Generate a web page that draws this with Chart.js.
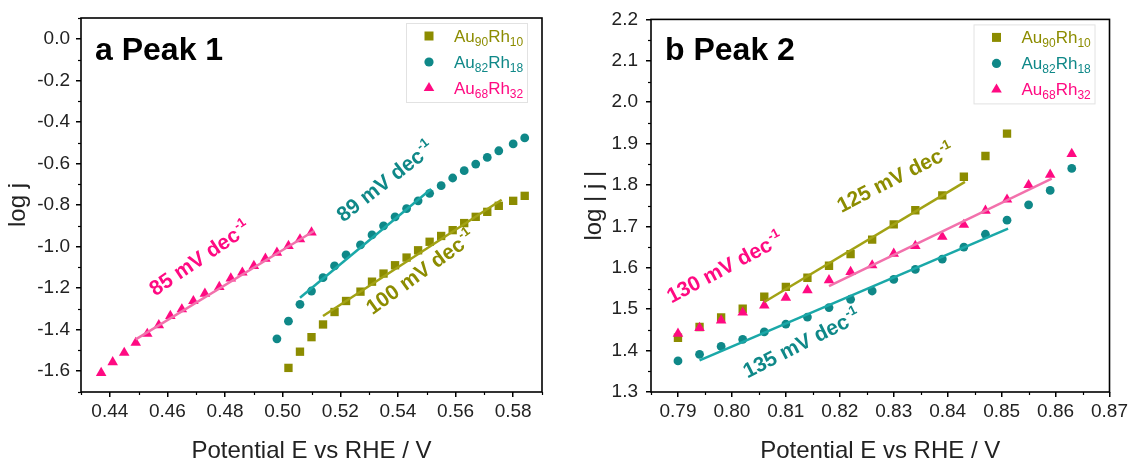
<!DOCTYPE html>
<html lang="en">
<head>
<meta charset="UTF-8">
<title>Tafel plots - Peak 1 and Peak 2</title>
<script src="https://cdn.jsdelivr.net/npm/chart.js"></script>
<style>
  html, body { margin: 0; padding: 0; background: #fff; }
  body { width: 1131px; height: 462px; position: relative; overflow: hidden; }
  .panel { position: absolute; top: 0; height: 462px; }
  #panelA { left: 0; width: 565px; }
  #panelB { left: 565px; width: 566px; }
</style>
</head>
<body>
<div class="panel" id="panelA"><canvas id="chartA"></canvas></div>
<div class="panel" id="panelB"><canvas id="chartB"></canvas></div>

<script>
const seriesNames = ['Au90Rh10', 'Au82Rh18', 'Au68Rh32'];

// Peak 1 (panel a)
const a_x90 = [0.502, 0.506, 0.510, 0.514, 0.518, 0.522, 0.527, 0.531, 0.535, 0.539, 0.543, 0.547, 0.551, 0.555, 0.559, 0.563, 0.567, 0.571, 0.575, 0.580, 0.584];
const a_y90 = [-1.584, -1.506, -1.436, -1.375, -1.315, -1.262, -1.217, -1.169, -1.130, -1.090, -1.053, -1.018, -0.977, -0.949, -0.921, -0.887, -0.857, -0.833, -0.804, -0.780, -0.756];
const a_x82 = [0.498, 0.502, 0.506, 0.510, 0.514, 0.518, 0.522, 0.527, 0.531, 0.535, 0.539, 0.543, 0.547, 0.551, 0.555, 0.559, 0.563, 0.567, 0.571, 0.575, 0.580, 0.584];
const a_y82 = [-1.444, -1.359, -1.278, -1.214, -1.150, -1.093, -1.040, -0.992, -0.944, -0.900, -0.857, -0.817, -0.780, -0.744, -0.707, -0.670, -0.635, -0.603, -0.571, -0.539, -0.506, -0.477];
const a_x68 = [0.437, 0.441, 0.445, 0.449, 0.453, 0.457, 0.461, 0.465, 0.469, 0.473, 0.478, 0.482, 0.486, 0.490, 0.494, 0.498, 0.502, 0.506, 0.510];
const a_y68 = [-1.608, -1.556, -1.511, -1.463, -1.420, -1.378, -1.334, -1.302, -1.262, -1.227, -1.194, -1.153, -1.125, -1.093, -1.058, -1.029, -0.997, -0.965, -0.932];
const a_fitX90 = [0.514, 0.576], a_fitY90 = [-1.334, -0.775];
const a_fitX82 = [0.506, 0.5515], a_fitY82 = [-1.246, -0.723];
const a_fitX68 = [0.449, 0.511], a_fitY68 = [-1.447, -0.924];
const xTicksA = [0.44, 0.46, 0.48, 0.50, 0.52, 0.54, 0.56, 0.58];
const yTicksA = [-1.6, -1.4, -1.2, -1.0, -0.8, -0.6, -0.4, -0.2, 0.0];

// Peak 2 (panel b)
const b_x90 = [0.790, 0.794, 0.798, 0.802, 0.806, 0.810, 0.814, 0.818, 0.822, 0.826, 0.830, 0.834, 0.839, 0.843, 0.847, 0.851];
const b_y90 = [1.431, 1.457, 1.480, 1.501, 1.530, 1.554, 1.576, 1.605, 1.633, 1.668, 1.705, 1.739, 1.775, 1.820, 1.870, 1.924];
const b_x82 = [0.790, 0.794, 0.798, 0.802, 0.806, 0.810, 0.814, 0.818, 0.822, 0.826, 0.830, 0.834, 0.839, 0.843, 0.847, 0.851, 0.855, 0.859, 0.863];
const b_y82 = [1.375, 1.391, 1.410, 1.427, 1.445, 1.464, 1.481, 1.504, 1.524, 1.544, 1.572, 1.596, 1.621, 1.650, 1.681, 1.715, 1.752, 1.787, 1.840];
const b_x68 = [0.790, 0.794, 0.798, 0.802, 0.806, 0.810, 0.814, 0.818, 0.822, 0.826, 0.830, 0.834, 0.839, 0.843, 0.847, 0.851, 0.855, 0.859, 0.863];
const b_y68 = [1.441, 1.455, 1.473, 1.492, 1.509, 1.528, 1.546, 1.570, 1.590, 1.606, 1.634, 1.653, 1.675, 1.704, 1.738, 1.765, 1.800, 1.825, 1.875];
const b_fitX90 = [0.806, 0.8432], b_fitY90 = [1.5175, 1.8076];
const b_fitX82 = [0.794, 0.8512], b_fitY82 = [1.3765, 1.6948];
const b_fitX68 = [0.818, 0.8593], b_fitY68 = [1.556, 1.8156];
const xTicksB = [0.79, 0.80, 0.81, 0.82, 0.83, 0.84, 0.85, 0.86, 0.87];
const yTicksB = [1.3, 1.4, 1.5, 1.6, 1.7, 1.8, 1.9, 2.0, 2.1, 2.2];

const FONT = '"Liberation Sans", Arial, sans-serif';
const OLIVE = '#8c8c00', TEAL = '#0f8888', PINK = '#ff0a82';
const OLIVE_FIT = '#a2a214', TEAL_FIT = '#1aa8a8', PINK_FIT = '#f271ac';
const colors = [OLIVE, TEAL, PINK];
const styles = ['rect', 'circle', 'triangle'];

function pts(xs, ys) {
  return xs.map((x, i) => ({ x: x, y: ys[i] }));
}

function markers(i, xs, ys) {
  const radius = [5.9, 4.4, 6.1][i];
  return {
    label: seriesNames[i],
    data: pts(xs, ys),
    pointStyle: styles[i],
    pointRadius: radius,
    pointHoverRadius: radius,
    pointBackgroundColor: colors[i],
    pointBorderColor: colors[i],
    pointBorderWidth: 0,
    showLine: false,
    order: 4 - i   // triangles over circles over squares
  };
}

function fitLine(xs, ys, color) {
  return {
    data: pts(xs, ys),
    showLine: true,
    borderColor: color,
    borderWidth: 2.5,
    pointRadius: 0,
    fill: false,
    order: 1
  };
}

// frame, minor ticks, panel title, legend with subscripts, slope notes
const decoPlugin = {
  id: 'deco',
  afterDraw(chart, args, opts) {
    const ctx = chart.ctx;
    const area = chart.chartArea;
    const sx = chart.scales.x, sy = chart.scales.y;
    ctx.save();

    // minor ticks
    ctx.strokeStyle = '#000';
    ctx.lineWidth = 1.2;
    const minor = (scale, majors, horiz) => {
      const step = (majors[1] - majors[0]) / 2;
      for (let k = -3; k <= majors.length * 2 + 2; k++) {
        if (k % 2 === 0) continue;
        const v = majors[0] + k * step;
        if (v < scale.min - 1e-9 || v > scale.max + 1e-9) continue;
        const p = Math.round(scale.getPixelForValue(v)) + 0.5;
        ctx.beginPath();
        if (horiz) { ctx.moveTo(p, area.bottom); ctx.lineTo(p, area.bottom + 3); }
        else { ctx.moveTo(area.left, p); ctx.lineTo(area.left - 3, p); }
        ctx.stroke();
      }
    };
    minor(sx, opts.xMajor, true);
    minor(sy, opts.yMajor, false);

    // frame
    ctx.lineWidth = 1.6;
    ctx.strokeRect(area.left, area.top, area.right - area.left, area.bottom - area.top);

    // panel title
    ctx.fillStyle = '#000';
    ctx.font = 'bold 32px ' + FONT;
    ctx.textBaseline = 'alphabetic';
    ctx.textAlign = 'left';
    ctx.fillText(opts.title, area.left + 14, 60);

    // legend
    const bw = 121, bh = 79;
    const bx = area.right - 15 - bw, by = area.top + 5;
    ctx.strokeStyle = '#e2e2e2';
    ctx.lineWidth = 1;
    ctx.strokeRect(bx + 0.5, by + 0.5, bw, bh);
    seriesNames.forEach((name, i) => {
      const cy = by + 13 + i * 26;
      const mx = bx + 23;
      ctx.fillStyle = colors[i];
      ctx.beginPath();
      if (i === 0) ctx.rect(mx - 4.5, cy - 4.5, 9, 9);
      else if (i === 1) ctx.arc(mx, cy, 4.6, 0, Math.PI * 2);
      else {
        ctx.moveTo(mx, cy - 6);
        ctx.lineTo(mx + 5.3, cy + 3);
        ctx.lineTo(mx - 5.3, cy + 3);
        ctx.closePath();
      }
      ctx.fill();
      let tx = bx + 48;
      const ty = cy + 6;
      name.split(/(\d+)/).forEach((part, j) => {
        if (!part) return;
        if (j % 2 === 1) {
          ctx.font = '12px ' + FONT;
          ctx.fillText(part, tx, ty + 4);
        } else {
          ctx.font = '17px ' + FONT;
          ctx.fillText(part, tx, ty);
        }
        tx += ctx.measureText(part).width;
      });
    });

    // slope notes
    opts.notes.forEach(n => {
      const x = sx.getPixelForValue(n.x), y = sy.getPixelForValue(n.y);
      ctx.save();
      ctx.translate(x, y);
      ctx.rotate(-n.angle * Math.PI / 180);
      ctx.fillStyle = n.color;
      ctx.font = 'bold 21px ' + FONT;
      ctx.fillText(n.text, 0, 0);
      const w = ctx.measureText(n.text).width;
      ctx.font = 'bold 13px ' + FONT;
      ctx.fillText('-1', w + 1, -9);
      ctx.restore();
    });

    ctx.restore();
  }
};

function axisX(min, max, ticks, title, pad) {
  return {
    type: 'linear',
    min: min,
    max: max,
    afterBuildTicks: s => { s.ticks = ticks.map(v => ({ value: v })); },
    afterFit: s => { s.height = 70; },
    ticks: {
      callback: v => Number(v).toFixed(2),
      font: { family: FONT, size: 19 },
      color: '#222',
      padding: pad,
      maxRotation: 0,
      autoSkip: false
    },
    grid: { display: true, drawOnChartArea: false, drawTicks: true, tickLength: 5, color: '#000', lineWidth: 1.5 },
    border: { display: false },
    title: { display: true, text: title, color: '#222', font: { family: FONT, size: 24, lineHeight: 0.85 }, padding: { top: 0, bottom: 0 } }
  };
}

function axisY(min, max, ticks, title, width, pad, titlePad) {
  return {
    type: 'linear',
    min: min,
    max: max,
    afterBuildTicks: s => { s.ticks = ticks.map(v => ({ value: v })); },
    afterFit: s => { s.width = width; },
    ticks: {
      callback: v => Number(v).toFixed(1),
      font: { family: FONT, size: 19 },
      color: '#222',
      padding: pad,
      autoSkip: false
    },
    grid: { display: true, drawOnChartArea: false, drawTicks: true, tickLength: 5, color: '#000', lineWidth: 1.5 },
    border: { display: false },
    title: { display: true, text: title, color: '#222', font: { family: FONT, size: 24, lineHeight: 1.2 }, padding: { top: titlePad, bottom: 0 } }
  };
}

new Chart(document.getElementById('chartA'), {
  type: 'scatter',
  data: {
    datasets: [
      fitLine(a_fitX90, a_fitY90, OLIVE_FIT),
      fitLine(a_fitX82, a_fitY82, TEAL_FIT),
      fitLine(a_fitX68, a_fitY68, PINK_FIT),
      markers(0, a_x90, a_y90),
      markers(1, a_x82, a_y82),
      markers(2, a_x68, a_y68)
    ]
  },
  options: {
    responsive: true,
    maintainAspectRatio: false,
    animation: false,
    layout: { padding: { left: 0, top: 18, right: 23, bottom: 0 } },
    scales: {
      x: axisX(0.43, 0.59, xTicksA, 'Potential E vs RHE / V', 3),
      y: axisY(-1.7, 0.1, yTicksA, 'log j', 81, 6, 4)
    },
    plugins: {
      legend: { display: false },
      tooltip: { enabled: false },
      deco: {
        title: 'a Peak 1',
        xMajor: xTicksA,
        yMajor: yTicksA,
        notes: [
          { text: '85 mV dec', x: 0.4558, y: -1.240, angle: 34, color: PINK },
          { text: '89 mV dec', x: 0.5211, y: -0.885, angle: 38, color: TEAL },
          { text: '100 mV dec', x: 0.5312, y: -1.331, angle: 36, color: OLIVE }
        ]
      }
    }
  },
  plugins: [decoPlugin]
});

new Chart(document.getElementById('chartB'), {
  type: 'scatter',
  data: {
    datasets: [
      fitLine(b_fitX90, b_fitY90, OLIVE_FIT),
      fitLine(b_fitX82, b_fitY82, TEAL_FIT),
      fitLine(b_fitX68, b_fitY68, PINK_FIT),
      markers(0, b_x90, b_y90),
      markers(1, b_x82, b_y82),
      markers(2, b_x68, b_y68)
    ]
  },
  options: {
    responsive: true,
    maintainAspectRatio: false,
    animation: false,
    layout: { padding: { left: 0, top: 19, right: 19, bottom: 0 } },
    scales: {
      x: axisX(0.785, 0.87, xTicksB, 'Potential E vs RHE / V', 3),
      y: axisY(1.3, 2.2, yTicksB, 'log | j |', 86, 8, 15)
    },
    plugins: {
      legend: { display: false },
      tooltip: { enabled: false },
      deco: {
        title: 'b Peak 2',
        xMajor: xTicksB,
        yMajor: yTicksB,
        notes: [
          { text: '125 mV dec', x: 0.8203, y: 1.7326, angle: 27, color: OLIVE },
          { text: '130 mV dec', x: 0.7888, y: 1.5136, angle: 28, color: PINK },
          { text: '135 mV dec', x: 0.8029, y: 1.3324, angle: 27, color: TEAL }
        ]
      }
    }
  },
  plugins: [decoPlugin]
});
</script>
</body>
</html>
